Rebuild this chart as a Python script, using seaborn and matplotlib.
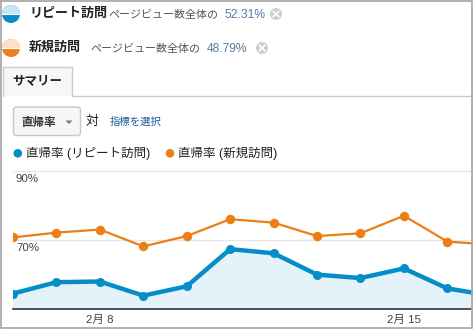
import matplotlib
matplotlib.use("Agg")
import matplotlib.pyplot as plt
import seaborn as sns
import pandas as pd
from matplotlib.patches import Rectangle, Circle, Wedge, FancyBboxPatch, Polygon

# ---- data ----
dates = ["2月 6", "2月 7", "2月 8", "2月 9", "2月 10", "2月 11", "2月 12",
         "2月 13", "2月 14", "2月 15", "2月 16", "2月 17"]
shown_ticks = ["2月 8", "2月 15"]
bounce_repeat = [54.4, 57.7, 57.9, 53.8, 56.5, 67.3, 66.1, 59.9, 58.9, 61.7, 55.9, 53.8]
bounce_new = [70.7, 72.1, 73.0, 68.1, 71.1, 76.0, 75.0, 71.1, 71.9, 77.0, 69.5, 68.6]
y_ticks = [90, 70]
seg_names = ["リピート訪問", "新規訪問"]
seg_share = ["52.31%", "48.79%"]
metric = "直帰率"

sns.set_theme(style="white")
FONT = ["Liberation Sans", "Noto Sans CJK JP", "DejaVu Sans"]
plt.rcParams["font.family"] = FONT

BLUE = "#058dc7"
ORANGE = "#ed7e17"
W, H = 473, 330

fig = plt.figure(figsize=(W / 100, H / 100), dpi=100)

# overlay axes in pixel coordinates for the UI chrome
ov = fig.add_axes([0, 0, 1, 1])
ov.set_xlim(0, W)
ov.set_ylim(H, 0)
ov.axis("off")
ov.patch.set_visible(False)

def pt(px):
    return px * 0.72

# segment rows
rows = [
    (14, seg_names[0], "#c6e6f3", "#0a8ccc", 29, 108, 224, seg_share[0], 276),
    (48, seg_names[1], "#fde0c8", "#ee7f1e", 29, 90, 207, seg_share[1], 262),
]
for (yc, name, light, dark, xn, xg, xp, share, xx) in rows:
    ov.add_patch(Circle((11, yc), 9, color=dark, lw=0))
    ov.add_patch(Wedge((11, yc), 9, 180, 360, color=light, lw=0))
    ov.plot([2, 20], [yc, yc], color="white", lw=0.8)
    ov.text(xn, yc, name, fontsize=pt(13), fontweight="bold", color="#222",
            va="center", ha="left")
    ov.text(xg, yc + 0.5, "ページビュー数全体の", fontsize=pt(11), color="#555",
            va="center", ha="left")
    ov.text(xp, yc + 0.5, share, fontsize=pt(12), color="#5a78a0",
            va="center", ha="left")
    ov.add_patch(Circle((xx, yc), 6, color="#cfcfcf", lw=0))
    ov.plot([xx - 2.8, xx + 2.8], [yc - 2.8, yc + 2.8], color="white", lw=1.2)
    ov.plot([xx - 2.8, xx + 2.8], [yc + 2.8, yc - 2.8], color="white", lw=1.2)

# tab
ov.add_patch(Rectangle((3, 67), 69, 29, facecolor="#f7f7f7", edgecolor="none"))
ov.plot([3, 3, 72, 72], [96, 67, 67, 96], color="#cccccc", lw=1)
ov.plot([72, W], [96, 96], color="#cccccc", lw=1)
ov.text(12, 81.5, "サマリー", fontsize=pt(12.5), fontweight="bold", color="#222",
        va="center", ha="left")

# dropdown
ov.add_patch(FancyBboxPatch((13.5, 107), 67, 28.5, boxstyle="round,pad=0,rounding_size=3",
                            facecolor="#f6f6f6", edgecolor="#c8c8c8", lw=1))
ov.text(21, 122, metric, fontsize=pt(11.5), fontweight="bold", color="#333",
        va="center", ha="left")
ov.add_patch(Polygon([[65.5, 120.5], [72.5, 120.5], [69, 124]], closed=True,
                     color="#777", lw=0))
ov.text(86, 121.5, "対", fontsize=pt(13), color="#222", va="center", ha="left")
ov.text(110, 121.5, "指標を選択", fontsize=pt(10.4), color="#1d5b9c",
        va="center", ha="left")

# legend
ov.add_patch(Circle((17.8, 153.3), 4.3, color=BLUE, lw=0))
ov.text(26, 153.5, f"{metric} ({seg_names[0]})", fontsize=pt(12.5), color="#222",
        va="center", ha="left")
ov.add_patch(Circle((170, 153.3), 4.3, color=ORANGE, lw=0))
ov.text(178, 153.5, f"{metric} ({seg_names[1]})", fontsize=pt(12.5), color="#222",
        va="center", ha="left")

# ---- chart ----
x0, x_right, y_top, y_bot = 13, W, 171, 308.7
ax = fig.add_axes([x0 / W, 1 - y_bot / H, (x_right - x0) / W, (y_bot - y_top) / H])
ax.patch.set_visible(False)

df = pd.DataFrame({"day": range(len(dates)), "repeat": bounce_repeat, "new": bounce_new})

ax.axhline(90, color="#e6e6e6", lw=1, clip_on=False, zorder=0)
ax.axhline(70, color="#e6e6e6", lw=1, zorder=0)
ax.fill_between(df["day"], df["repeat"], 50, color="#e4f2f9", lw=0, zorder=1)
sns.lineplot(data=df, x="day", y="new", ax=ax, color=ORANGE, linewidth=1.6,
             marker="o", markersize=6.8, markeredgewidth=0, zorder=3)
sns.lineplot(data=df, x="day", y="repeat", ax=ax, color=BLUE, linewidth=3.2,
             marker="o", markersize=6.5, markeredgewidth=0, zorder=4)

ax.set_xlim(0, (x_right - x0) / 43.43)
ax.set_ylim(50, 90)
ax.set_xlabel("")
ax.set_ylabel("")
ax.set_yticks([])
tick_pos = [dates.index(t) for t in shown_ticks]
ax.set_xticks(tick_pos)
ax.set_xticklabels(shown_ticks, fontsize=pt(11.5), color="#444")
ax.tick_params(axis="x", length=0, pad=4.5)
for s in ["top", "right", "left"]:
    ax.spines[s].set_visible(False)
ax.spines["bottom"].set_color("#333333")
ax.spines["bottom"].set_linewidth(1.2)

for v in y_ticks:
    ax.annotate(f"{v}%", xy=(0, v), xycoords=("axes fraction", "data"),
                xytext=(pt(3), pt(-8)), textcoords="offset points",
                fontsize=pt(11.5), color="#444", va="center", ha="left")

# outer border
ov.plot([0.7, 0.7, 471.7, 471.7, 0.7], [0.5, 328, 328, 0.5, 0.5],
        color="#aaaaaa", lw=1.3, zorder=10, clip_on=False)
ov.set_zorder(5)

fig.savefig("out.png", dpi=100)
